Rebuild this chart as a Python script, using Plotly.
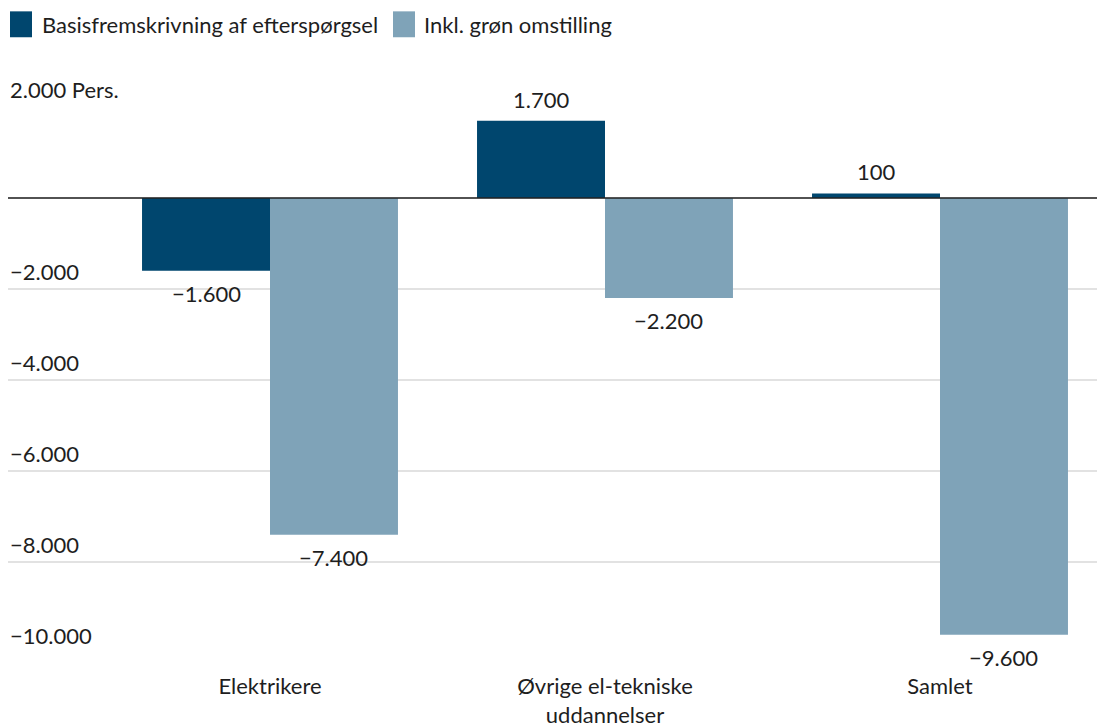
import plotly.graph_objects as go

# Data
categories = ["Elektrikere", "Øvrige el-tekniske<br>uddannelser", "Samlet"]
basis = [-1600, 1700, 100]
groen = [-7400, -2200, -9600]
series_names = ["Basisfremskrivning af efterspørgsel", "Inkl. grøn omstilling"]
y_ticks = [2000, -2000, -4000, -6000, -8000, -10000]

DARK = "#00466e"
LIGHT = "#7fa3b8"
TEXT = "#1e1e1e"
FONT = "Lato"
FS = 22

W, H = 1097, 728
ML, MR, MT, MB = 8, 0, 107, 73
PW, PH = W - ML - MR, H - MT - MB

# Category slots: 335 px per category, first centre at 270 px
slot = 335.0
x0 = (ML - 270) / slot
x1 = (W - MR - 270) / slot
bar_w = 0.382


def fmt(v):
    s = f"{abs(v):,}".replace(",", ".")
    return ("\u2212" + s) if v < 0 else s


xs = list(range(len(categories)))
fig = go.Figure()
fig.add_bar(x=xs, y=basis, name=series_names[0], marker_color=DARK,
            marker_line_width=0, width=bar_w, offset=-bar_w, showlegend=False)
fig.add_bar(x=xs, y=groen, name=series_names[1], marker_color=LIGHT,
            marker_line_width=0, width=bar_w, offset=0, showlegend=False)

ann = []
# value labels
for vals, dx in ((basis, -bar_w / 2), (groen, bar_w / 2)):
    for i, v in enumerate(vals):
        ann.append(dict(x=i + dx, y=v, xref="x", yref="y", text=fmt(v),
                        showarrow=False, font=dict(size=FS, color=TEXT, family=FONT),
                        yanchor="bottom" if v >= 0 else "top",
                        yshift=6 if v >= 0 else -7))
# y tick labels sitting above gridlines
for t in y_ticks:
    label = fmt(t) + (" Pers." if t == max(y_ticks) else "")
    ann.append(dict(x=0, y=t, xref="paper", yref="y", text=label, showarrow=False,
                    xanchor="left", yanchor="bottom", yshift=2,
                    font=dict(size=FS, color=TEXT, family=FONT)))


# legend drawn as squares + text (pixel positions converted to paper)
def px(xp):
    return (xp - ML) / PW


def py(yp):
    return (H - MB - yp) / PH


shapes = []
legend_items = [(10, 32, 40, DARK, series_names[0]), (393, 415, 422, LIGHT, series_names[1])]
for sx0, sx1, tx, col, name in legend_items:
    shapes.append(dict(type="rect", xref="paper", yref="paper", x0=px(sx0), x1=px(sx1),
                       y0=py(37), y1=py(11), fillcolor=col, line_width=0, layer="above"))
    ann.append(dict(x=px(tx), y=py(24), xref="paper", yref="paper", text=name,
                    showarrow=False, xanchor="left", yanchor="middle",
                    font=dict(size=FS, color=TEXT, family=FONT)))

# zero line on top of bars
shapes.append(dict(type="line", xref="paper", yref="y", x0=0, x1=1, y0=0, y1=0,
                   line=dict(color="#222222", width=1.5), layer="above"))

fig.update_layout(
    width=W, height=H,
    margin=dict(l=ML, r=MR, t=MT, b=MB),
    plot_bgcolor="white", paper_bgcolor="white",
    barmode="overlay",
    showlegend=False,
    annotations=ann, shapes=shapes,
    font=dict(family=FONT, size=FS, color=TEXT),
)
fig.update_xaxes(range=[x0, x1], tickvals=xs, ticktext=categories, showgrid=False,
                 zeroline=False, showline=False, ticks="", ticklabelstandoff=18,
                 tickfont=dict(size=FS, color=TEXT, family=FONT), fixedrange=True)
fig.update_yaxes(range=[-10000, 2000], tickvals=y_ticks + [0], showticklabels=False,
                 showgrid=True, gridcolor="#e2e2e2", gridwidth=1.5, zeroline=False,
                 showline=False, ticks="", fixedrange=True)

fig.write_html("out.html", config={"displayModeBar": False})
